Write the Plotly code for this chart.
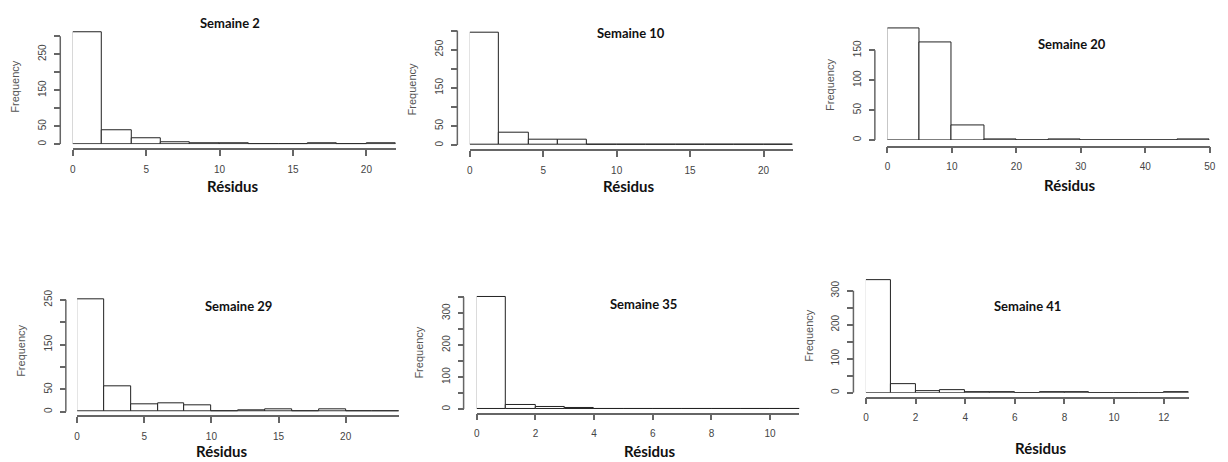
import numpy as np
import plotly.graph_objects as go

W, H = 1228, 462

# ---------------- data ----------------
titles = ["Semaine 2", "Semaine 10", "Semaine 20", "Semaine 29", "Semaine 35", "Semaine 41"]
bin_width = [2, 2, 5, 2, 1, 1]
counts_s2 = [312, 38, 16, 6, 2, 2, 0, 0, 2, 0, 2]
counts_s10 = [294, 33, 15, 13, 2, 2, 1, 1, 2, 2, 1]
counts_s20 = [187, 163, 24, 1, 0, 1, 0, 0, 0, 1]
counts_s29 = [251, 56, 17, 19, 14, 1, 4, 6, 1, 5, 0, 1]
counts_s35 = [350, 12, 6, 3, 0, 1, 1, 1, 0, 1, 1]
counts_s41 = [330, 25, 6, 7, 3, 1, 0, 1, 1, 0, 0, 0, 1]
all_counts = [counts_s2, counts_s10, counts_s20, counts_s29, counts_s35, counts_s41]

xtick_vals = [
    [0, 5, 10, 15, 20],
    [0, 5, 10, 15, 20],
    [0, 10, 20, 30, 40, 50],
    [0, 5, 10, 15, 20],
    [0, 2, 4, 6, 8, 10],
    [0, 2, 4, 6, 8, 10, 12],
]
ytick_vals = [
    [0, 50, 100, 150, 200, 250, 300],
    [0, 50, 100, 150, 200, 250, 300],
    [0, 50, 100, 150],
    [0, 50, 100, 150, 200, 250],
    [0, 50, 100, 150, 200, 250, 300, 350],
    [0, 50, 100, 150, 200, 250, 300],
]
ytick_text = [
    ["0", "50", "", "150", "", "250", ""],
    ["0", "50", "", "150", "", "250", ""],
    ["0", "50", "100", "150"],
    ["0", "50", "", "150", "", "250"],
    ["0", "", "100", "", "200", "", "300", ""],
    ["0", "", "100", "", "200", "", "300"],
]
xlabel = "Résidus"
ylabel = "Frequency"

# ---------------- layout (pixels) ----------------
xdom_px = [(70.3, 395.7), (470.3, 795.7), (891, 1215.7), (74.7, 399.3), (477.3, 802.3), (869.3, 1194.3)]
xmax = [22, 22, 50, 24, 11, 13]
y0_px = [140.3, 141.3, 136, 412, 409.3, 392.7]
y_ppu = [0.3653, 0.388, 0.6067, 0.4547, 0.3247, 0.3453]
ymax = [325, 310, 195, 260, 360, 340]
xline_px = [145, 146, 142.7, 416.7, 414, 397.7]
yline_px = [57.7, 457.7, 878.3, 63.3, 464, 856.7]
title_px = [(228.7, 17.3), (633, 27.3), (1077, 38.3), (237.7, 305), (645, 302.3), (1031.8, 305)]
xlab_px = [(231.2, 183), (630.8, 182.7), (1074.5, 181.7), (220.8, 451.7), (651.3, 452.3), (1045.8, 449)]
ylab_px = [(11.7, 82.3), (411.7, 85), (833.3, 80), (18.3, 350), (419.3, 351.7), (811.7, 335)]


def px(x):
    return x / W


def py(y):
    return 1 - y / H


fig = go.Figure()
annotations = []
shapes = []
layout = {}

AX_COL = "#666666"
TICK_FONT = dict(family="Liberation Sans, Arial, sans-serif", size=10, color="#444444")

for i in range(6):
    n = i + 1
    xa = "x" if n == 1 else f"x{n}"
    ya = "y" if n == 1 else f"y{n}"
    counts = np.array(all_counts[i])
    w = bin_width[i]
    edges = np.arange(len(counts) + 1) * w
    centers = (edges[:-1] + edges[1:]) / 2
    fig.add_trace(go.Bar(
        x=centers, y=counts, width=w, xaxis=xa, yaxis=ya,
        marker=dict(color="white", line=dict(color="#222222", width=1)),
        showlegend=False, hoverinfo="x+y",
    ))

    x0, x1 = xdom_px[i]
    ybot = y0_px[i]
    ytop = ybot - ymax[i] * y_ppu[i]
    layout["xaxis" if n == 1 else f"xaxis{n}"] = dict(
        domain=[px(x0), px(x1)], range=[0, xmax[i]], anchor="free",
        position=py(xline_px[i]), showgrid=False, zeroline=False,
        showline=True, linecolor=AX_COL, linewidth=1.5,
        ticks="outside", ticklen=6, tickcolor=AX_COL, tickwidth=1.5,
        tickvals=xtick_vals[i], tickfont=TICK_FONT, ticklabelstandoff=5,
    )
    layout["yaxis" if n == 1 else f"yaxis{n}"] = dict(
        domain=[py(ybot), py(ytop)], range=[0, ymax[i]], anchor="free",
        position=px(yline_px[i]), showgrid=False, zeroline=False,
        showline=False, ticks="outside", ticklen=6, tickcolor=AX_COL, tickwidth=1.5,
        tickvals=ytick_vals[i], ticktext=ytick_text[i], tickangle=-90,
        tickfont=TICK_FONT, ticklabelstandoff=4,
    )
    # detached y-axis line from first to last tick (R style)
    shapes.append(dict(
        type="line", xref="paper", yref=ya,
        x0=px(yline_px[i]), x1=px(yline_px[i]),
        y0=ytick_vals[i][0], y1=ytick_vals[i][-1],
        line=dict(color=AX_COL, width=1.5), layer="above",
    ))
    tx, ty = title_px[i]
    annotations.append(dict(
        text=titles[i], x=px(tx), y=py(ty), xref="paper", yref="paper",
        showarrow=False, xanchor="center", yanchor="middle",
        font=dict(family="Lato, Open Sans, sans-serif", size=13, color="#111111", weight="bold"),
    ))
    lx, ly = xlab_px[i]
    annotations.append(dict(
        text=xlabel, x=px(lx), y=py(ly), xref="paper", yref="paper",
        showarrow=False, xanchor="center", yanchor="middle",
        font=dict(family="Lato, Open Sans, sans-serif", size=15, color="#111111", weight="bold"),
    ))
    fx, fy = ylab_px[i]
    annotations.append(dict(
        text=ylabel, x=px(fx), y=py(fy), xref="paper", yref="paper",
        showarrow=False, xanchor="center", yanchor="middle", textangle=-90,
        font=dict(family="Liberation Sans, Arial, sans-serif", size=11, color="#555555"),
    ))

fig.update_layout(
    width=W, height=H, margin=dict(l=0, r=0, t=0, b=0),
    paper_bgcolor="white", plot_bgcolor="white",
    bargap=0, annotations=annotations, shapes=shapes, **layout,
)

fig.write_html("out.html", config={"displayModeBar": False})
